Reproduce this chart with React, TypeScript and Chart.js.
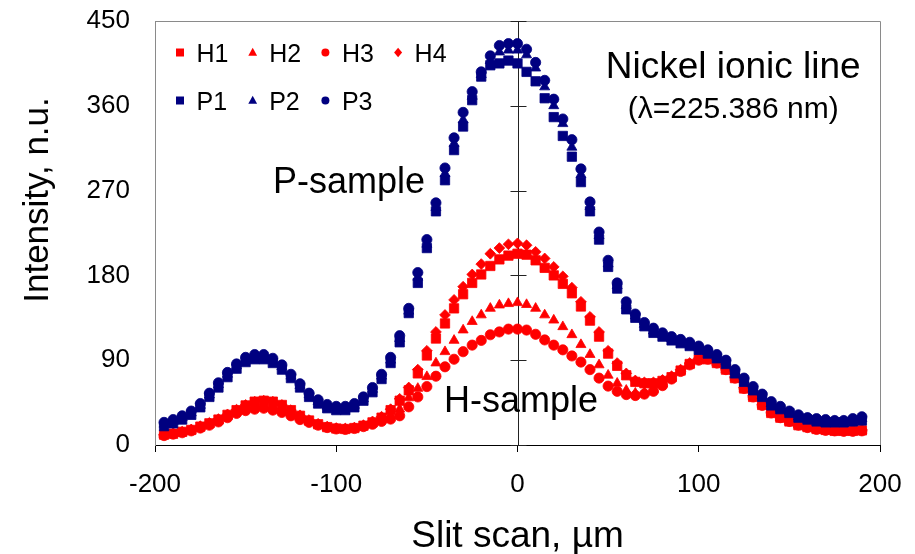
import React, { useEffect, useRef } from 'react';
import { Chart, registerables } from 'chart.js';

Chart.register(...registerables);

// ---- data ----
const slitPositions = [
  -195, -190, -185, -180, -175, -170, -165, -160, -155, -150, -145, -140, -135, -130, -125, -120,
  -115, -110, -105, -100, -95, -90, -85, -80, -75, -70, -65, -60, -55, -50, -45, -40, -35, -30,
  -25, -20, -15, -10, -5, 0, 5, 10, 15, 20, 25, 30, 35, 40, 45, 50, 55, 60, 65, 70, 75, 80, 85,
  90, 95, 100, 105, 110, 115, 120, 125, 130, 135, 140, 145, 150, 155, 160, 165, 170, 175, 180,
  185, 190,
];

const H1 = [
  11, 12, 14, 16, 19.5, 23, 27, 32, 37, 42, 46, 47, 46, 42.5, 37, 31, 26, 22, 19, 17.5, 17, 18,
  20.5, 24, 29, 37, 47, 58, 76, 95, 113, 129, 145, 160, 172, 181, 190, 197, 201, 203, 202, 196,
  188, 180, 171, 161, 147, 132, 115, 97, 84, 74, 67, 65.5, 65.5, 68, 72, 79, 86, 91, 91, 87, 80,
  71, 60, 51, 42.5, 34, 29, 25, 21, 19, 17, 16, 15, 15, 15, 15.5,
];
const H2 = [
  10.5, 12, 13.5, 15.5, 19, 22, 26, 31, 35, 39, 42, 43, 41.5, 38.5, 34, 29, 25, 21.5, 18.5, 17,
  16.5, 17.5, 20, 23, 27, 31, 38, 50, 60, 72.5, 87, 99, 111, 122, 131, 138, 145, 148.5, 150, 151,
  149, 145, 138, 132.5, 125.5, 117, 106.5, 96, 85, 74, 65.5, 58, 55, 56, 59, 65, 71, 78.5, 85.5,
  90.5, 91, 87, 80, 71, 60, 51, 42.5, 34, 29, 25, 21, 18.5, 16.5, 15.5, 15, 14.5, 15, 15,
];
const H3 = [
  10, 11.5, 13, 15, 18, 21, 24.5, 29, 33.5, 36.5, 38, 39, 37, 34.5, 31, 27, 24, 21, 18.5, 17,
  16.5, 17.5, 19.5, 22, 25, 27.5, 31, 40.5, 51, 62, 73, 83, 91, 99, 106, 111, 117, 120, 123, 123,
  122, 117.5, 111.5, 106, 101, 94.5, 88, 80, 71, 62.5, 57, 53.5, 52.5, 54, 57, 63, 70, 78, 85, 90,
  91, 87, 80, 71, 60, 51, 42, 34, 29, 25, 21, 18.5, 16.5, 15.5, 15, 14.5, 14.5, 15,
];
const H4 = [
  11, 12.5, 14, 16.5, 20, 23.5, 27.5, 32.5, 37.5, 42.5, 46, 47, 46, 42.5, 37, 31.5, 26.5, 22.5,
  19.5, 18, 17.5, 18.5, 21, 25, 30, 38, 49, 61, 80, 100, 120, 138, 154, 168, 181, 192, 203, 209,
  213, 214, 212, 205, 198, 189, 179, 167, 152, 136, 120, 100, 87, 76, 68.5, 66.5, 66.5, 69, 73, 80,
  87, 92, 92, 88, 81, 72, 61, 52, 43.5, 35, 30, 25.5, 21.5, 19.5, 17.5, 16.5, 15.5, 15.5, 15.5, 16,
];
const P1 = [
  20, 23, 27, 32, 40, 51, 61, 72, 81, 88, 91, 91, 87, 80, 71, 61, 51, 44, 39, 37, 37, 40, 47, 56,
  70, 87, 109, 140, 172, 209, 248, 281, 313, 338, 366, 391, 403, 405, 408, 405, 396, 386, 368, 348,
  328, 306, 279, 248, 218, 189, 166, 144, 135, 126, 119, 115, 111, 108, 105, 101, 97, 92, 86, 76,
  67, 58, 51, 42, 38, 34, 29, 27, 25, 24, 24, 24, 25, 26,
];
const P2 = [
  22, 25, 29, 34, 42, 53, 64, 75, 84, 91, 94, 94, 90, 83, 73, 63, 53, 46, 41, 39, 39, 42, 49, 59,
  73, 90, 113, 142, 178, 213, 252, 288, 320, 345, 370, 393, 408, 417, 419, 419, 414, 400, 380, 360,
  341, 316, 287, 253, 222, 192, 169, 148, 137, 128, 121, 117, 113, 110, 107, 103, 99, 94, 88, 78,
  69, 60, 52, 44, 39, 35, 30, 28, 26.5, 25.5, 25, 25, 26.5, 28,
];
const P3 = [
  24, 27, 31, 36, 44, 55, 66, 77, 86, 93, 96, 96, 92, 85, 75, 65, 55, 48, 43, 41, 41, 44, 51, 61,
  75, 93, 116, 145, 183, 218, 257, 294, 326, 353, 375, 396, 413, 424, 426, 426, 420, 406, 387, 367,
  346, 324, 293, 258, 226, 196, 172, 152, 139, 130, 124, 119, 115, 112, 109, 105, 101, 96, 90, 80,
  71, 62, 54, 46, 41, 36, 32, 29, 28, 27, 26, 26, 28, 30,
];

const seriesLabels = ['H1', 'H2', 'H3', 'H4', 'P1', 'P2', 'P3'];
const seriesValues = [H1, H2, H3, H4, P1, P2, P3];
const seriesStyles = ['rect', 'triangle', 'circle', 'rectRot', 'rect', 'triangle', 'circle'];
const seriesRadius = [6.6, 5.8, 5.1, 5.4, 6.6, 5.8, 5.1];
const RED = '#ff0000';
const NAVY = '#000080';
const seriesColors = [RED, RED, RED, RED, NAVY, NAVY, NAVY];

const xAxisTitle = 'Slit scan, µm';
const yAxisTitle = 'Intensity, n.u.';
const xRange = [-200, 200];
const yRange = [0, 450];
const xStep = 100;
const yStep = 90;

const annotationTexts = ['P-sample', 'H-sample', 'Nickel ionic line', '(λ=225.386 nm)'];
// anchor (data coordinates) + font size for each annotation
const annotationX = [-93, 2, 119, 119];
const annotationY = [267.5, 35, 389.5, 347];
const annotationSize = [36, 36, 37, 30];

const FONT = "'Liberation Sans', Arial, Helvetica, sans-serif";

function drawMarker(ctx: CanvasRenderingContext2D, style: string, x: number, y: number, s: number, color: string) {
  ctx.fillStyle = color;
  ctx.beginPath();
  if (style === 'rect') {
    ctx.rect(x - s / 2, y - s / 2, s, s);
  } else if (style === 'circle') {
    ctx.arc(x, y, s / 2, 0, Math.PI * 2);
  } else if (style === 'triangle') {
    ctx.moveTo(x, y - s * 0.58);
    ctx.lineTo(x + s * 0.55, y + s * 0.42);
    ctx.lineTo(x - s * 0.55, y + s * 0.42);
    ctx.closePath();
  } else {
    ctx.moveTo(x, y - s * 0.6);
    ctx.lineTo(x + s * 0.5, y);
    ctx.lineTo(x, y + s * 0.6);
    ctx.lineTo(x - s * 0.5, y);
    ctx.closePath();
  }
  ctx.fill();
}

const decorPlugin = {
  id: 'decor',
  beforeDatasetsDraw(chart: any) {
    const { ctx, chartArea: a } = chart;
    const xs = chart.scales.x;
    const ys = chart.scales.y;
    ctx.save();
    // plot-area frame (top + right)
    ctx.strokeStyle = '#8a8a8a';
    ctx.lineWidth = 1;
    ctx.beginPath();
    ctx.moveTo(a.left, Math.round(a.top) + 0.5);
    ctx.lineTo(Math.round(a.right) + 0.5, Math.round(a.top) + 0.5);
    ctx.lineTo(Math.round(a.right) + 0.5, a.bottom);
    ctx.stroke();
    // vertical axis crossing at x = 0 with cross tick marks
    const cx = Math.round(xs.getPixelForValue(0)) + 0.5;
    ctx.strokeStyle = '#222';
    ctx.beginPath();
    ctx.moveTo(cx, a.top);
    ctx.lineTo(cx, a.bottom);
    for (const t of ys.ticks) {
      const py = Math.round(ys.getPixelForValue(t.value)) + 0.5;
      ctx.moveTo(cx - 8, py);
      ctx.lineTo(cx + 8, py);
    }
    ctx.stroke();
    ctx.restore();
  },
  afterDraw(chart: any) {
    const { ctx, chartArea: a } = chart;
    const xs = chart.scales.x;
    const ys = chart.scales.y;
    ctx.save();
    // legend (two rows: H-series, P-series)
    ctx.font = `25px ${FONT}`;
    ctx.textBaseline = 'alphabetic';
    ctx.textAlign = 'left';
    const pitch = 72.7;
    chart.data.datasets.forEach((ds: any, i: number) => {
      const row = i < 4 ? 0 : 1;
      const col = i < 4 ? i : i - 4;
      const mx = a.left + 25 + col * pitch;
      const my = a.top + 31.5 + row * 48;
      drawMarker(ctx, seriesStyles[i], mx, my, 8, seriesColors[i]);
      ctx.fillStyle = '#000';
      ctx.fillText(ds.label, mx + 16.5, my + 9.3);
    });
    // annotations
    ctx.textAlign = 'center';
    ctx.textBaseline = 'alphabetic';
    annotationTexts.forEach((t, i) => {
      ctx.font = `${annotationSize[i]}px ${FONT}`;
      ctx.fillStyle = '#000';
      ctx.fillText(t, xs.getPixelForValue(annotationX[i]), ys.getPixelForValue(annotationY[i]));
    });
    // y axis title
    ctx.translate(38, 200);
    ctx.rotate(-Math.PI / 2);
    ctx.font = `35px ${FONT}`;
    ctx.textBaseline = 'middle';
    ctx.fillText(yAxisTitle, 0, 0);
    ctx.restore();
  },
};

export default function App() {
  const ref = useRef<HTMLCanvasElement | null>(null);
  useEffect(() => {
    if (!ref.current) return;
    const chart = new Chart(ref.current, {
      type: 'scatter',
      data: {
        datasets: seriesLabels.map((label, i) => ({
          label,
          data: slitPositions.map((x, j) => ({ x, y: seriesValues[i][j] })),
          pointStyle: seriesStyles[i] as any,
          pointRadius: seriesRadius[i],
          pointBackgroundColor: seriesColors[i],
          pointBorderColor: seriesColors[i],
          pointBorderWidth: 0.8,
          backgroundColor: seriesColors[i],
          borderColor: seriesColors[i],
          showLine: false,
          order: seriesLabels.length - i,
        })),
      },
      options: {
        responsive: false,
        animation: false,
        events: [],
        layout: { padding: { left: 0, right: 35, top: 21, bottom: 0 } },
        plugins: { legend: { display: false }, tooltip: { enabled: false } },
        scales: {
          x: {
            type: 'linear',
            min: xRange[0],
            max: xRange[1],
            ticks: { stepSize: xStep, color: '#000', font: { family: FONT, size: 26 }, padding: 17, maxRotation: 0 },
            grid: { drawOnChartArea: false, drawTicks: true, tickLength: 7, color: '#000' },
            border: { display: true, color: '#000', width: 1 },
            title: {
              display: true,
              text: xAxisTitle,
              color: '#000',
              font: { family: FONT, size: 37 },
              padding: { top: 0, bottom: -5 },
            },
            afterFit: (s: any) => {
              s.height = 109;
              s.paddingLeft = 0;
              s.paddingRight = 0;
            },
          },
          y: {
            type: 'linear',
            min: yRange[0],
            max: yRange[1],
            ticks: { stepSize: yStep, color: '#000', font: { family: FONT, size: 26 }, padding: 25 },
            grid: { drawOnChartArea: false, drawTicks: false },
            border: { display: true, color: '#8a8a8a', width: 1 },
            afterFit: (s: any) => {
              s.width = 155;
              s.paddingTop = 0;
              s.paddingBottom = 0;
            },
          },
        },
      },
      plugins: [decorPlugin],
    });
    return () => chart.destroy();
  }, []);
  return (
    <div style={{ position: 'absolute', left: 0, top: 0, width: 915, height: 554, background: '#fff' }}>
      <canvas ref={ref} width={915} height={554} style={{ display: 'block' }} />
    </div>
  );
}
